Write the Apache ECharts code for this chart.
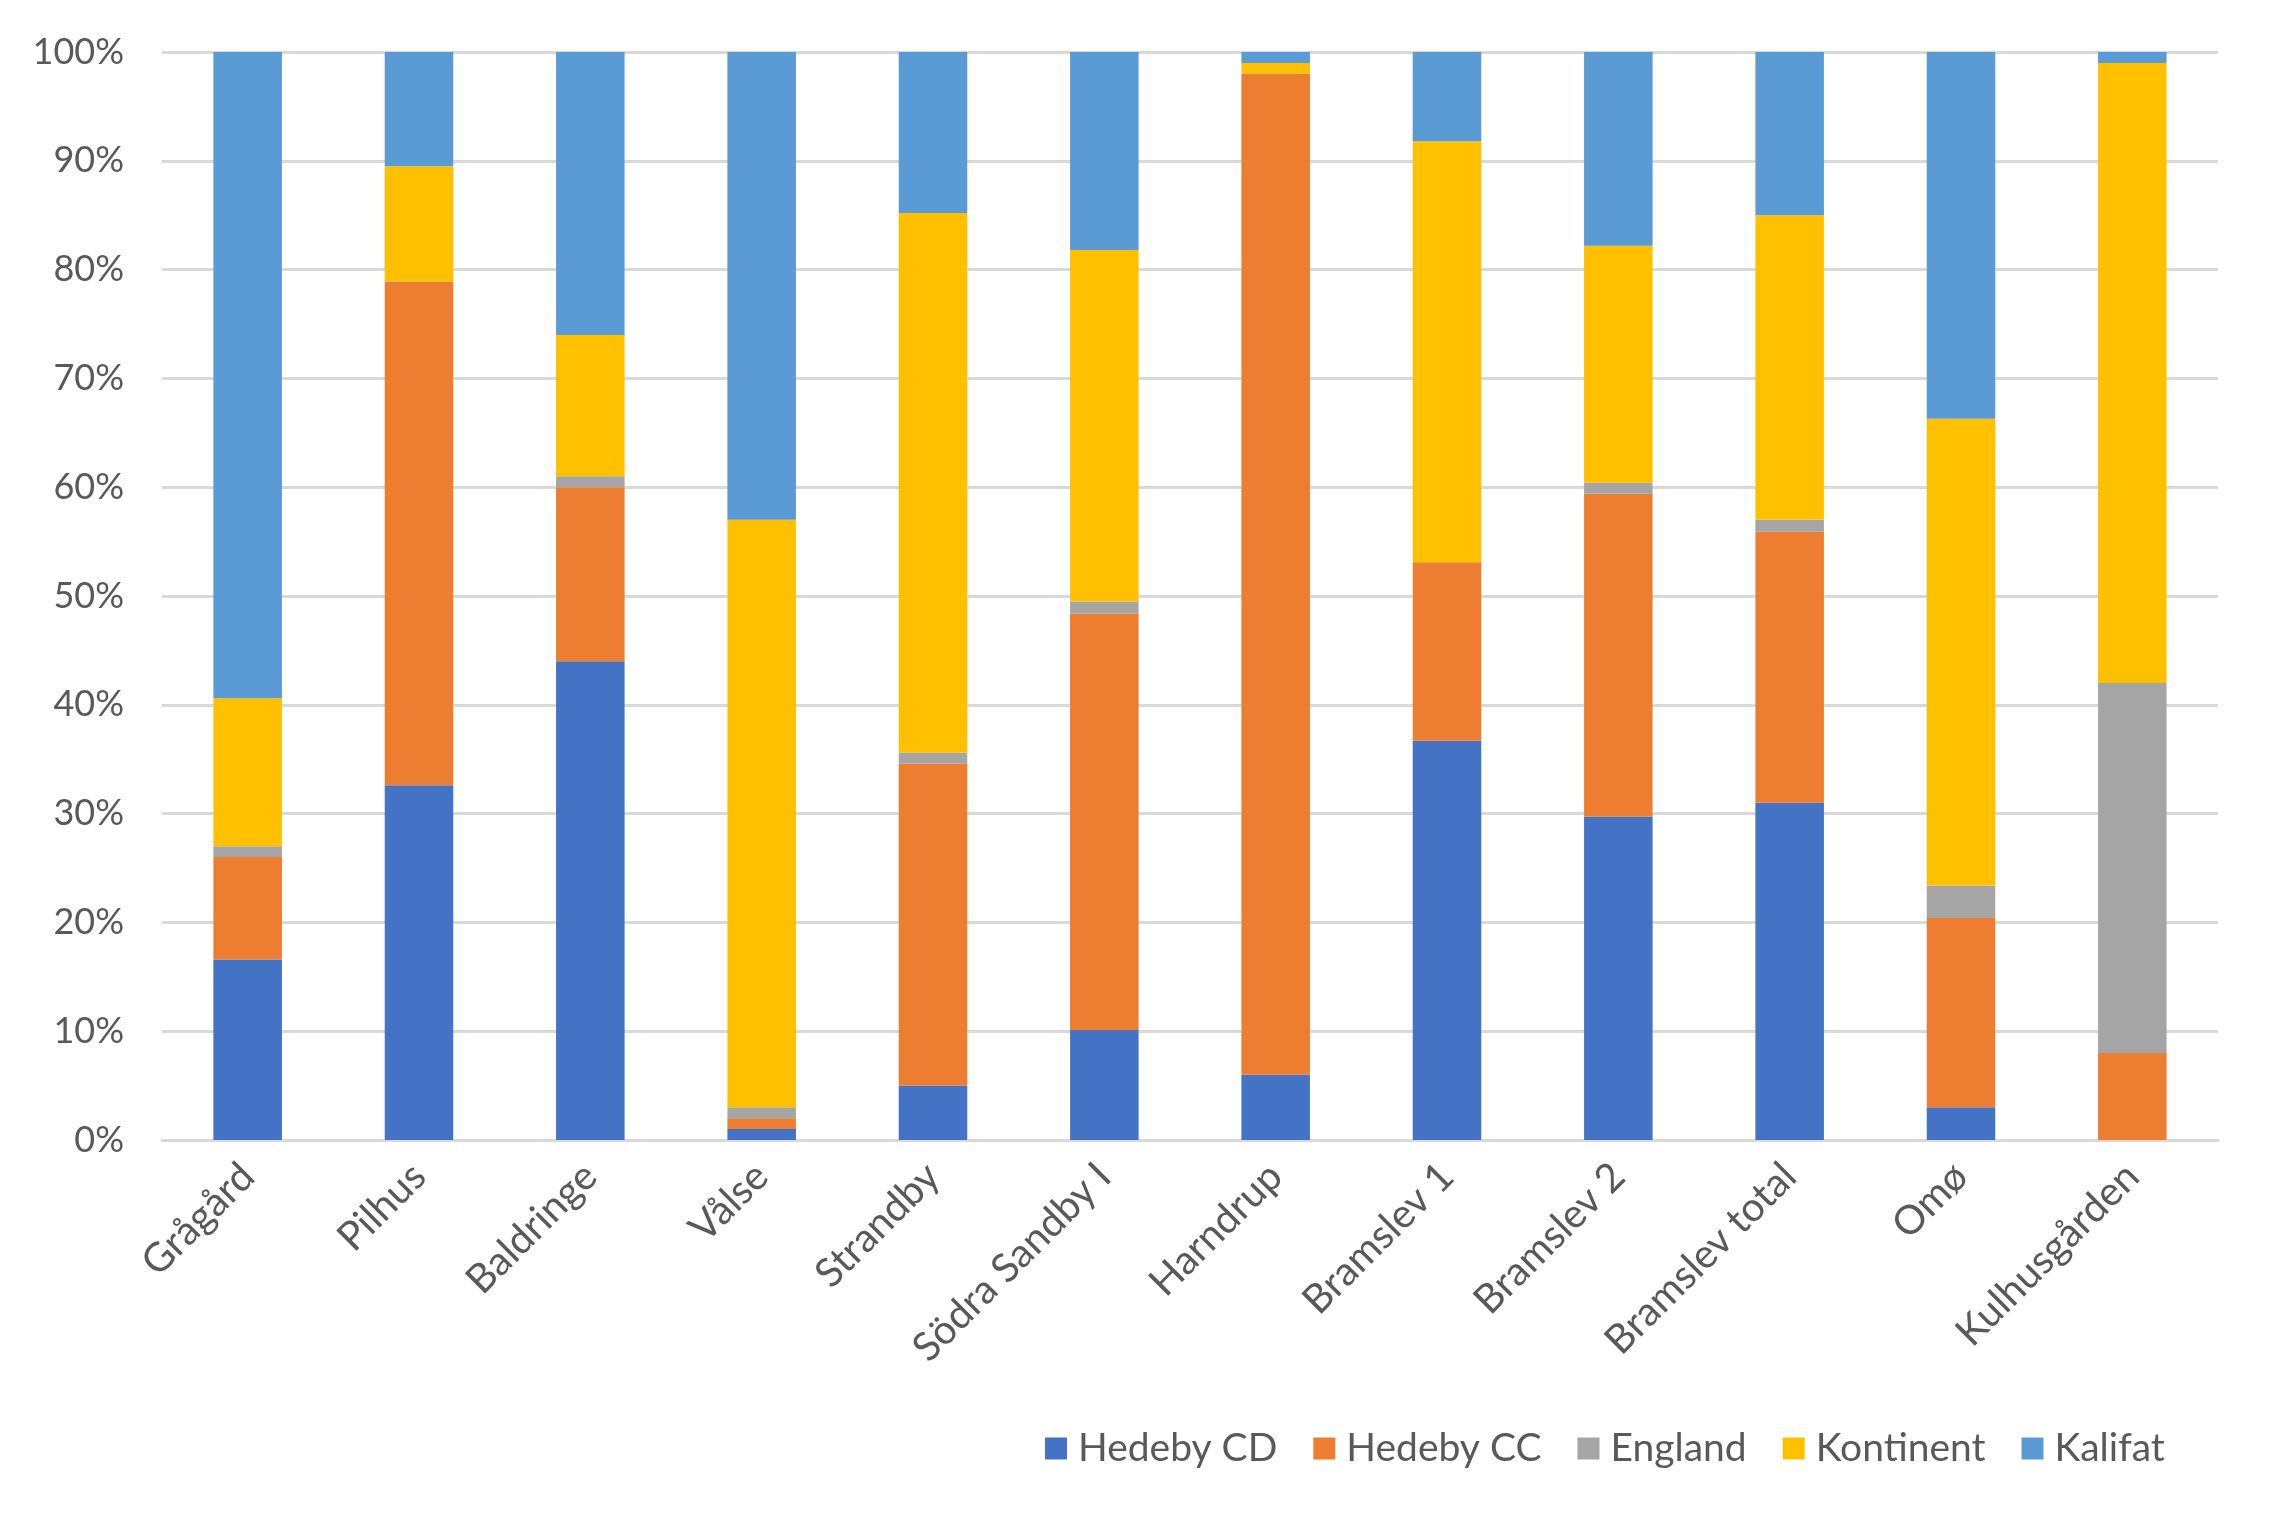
<!DOCTYPE html>
<html>
<head>
<meta charset="utf-8">
<script src="https://cdn.jsdelivr.net/npm/echarts@6/dist/echarts.min.js"></script>
<style>
  html, body { margin: 0; padding: 0; background: #fff; }
  #main { width: 2272px; height: 1514px; }
</style>
</head>
<body>
<div id="main"></div>
<script>
// finds per site, share in percent
const sites = ["Grågård", "Pilhus", "Baldringe", "Vålse", "Strandby", "Södra Sandby I",
  "Harndrup", "Bramslev 1", "Bramslev 2", "Bramslev total", "Omø", "Kulhusgården"];
const hedebyCD  = [16.6, 32.6, 44, 1, 5, 10.1, 6, 36.7, 29.7, 31.0, 3.0, 0];
const hedebyCC  = [9.4, 46.3, 16, 1, 29.6, 38.3, 92, 16.4, 29.7, 24.9, 17.4, 8];
const england   = [1.0, 0, 1, 1, 1, 1.1, 0, 0, 1.0, 1.1, 3.0, 34];
const kontinent = [13.6, 10.6, 13, 54, 49.6, 32.3, 1, 38.7, 21.8, 28.0, 42.9, 57];
const kalifat   = [59.4, 10.5, 26, 43, 14.8, 18.2, 1, 8.2, 17.8, 15.0, 33.7, 1];

const names = ["Hedeby CD", "Hedeby CC", "England", "Kontinent", "Kalifat"];
const colors = ["#4472C4", "#ED7D31", "#A5A5A5", "#FFC000", "#5B9BD5"];
const textColor = "#595959";
const font = "Lato";

let chart = echarts.init(document.getElementById("main"));

function bar(name, data, i) {
  return {
    name: name,
    type: "bar",
    stack: "total",
    barWidth: "40%",
    data: data,
    itemStyle: { color: colors[i] },
  };
}

chart.setOption({
  animation: false,
  color: colors,
  grid: { left: 162, right: 54, top: 52, bottom: 374 },
  legend: {
    data: names,
    left: 1040,
    top: 1424,
    icon: "rect",
    itemWidth: 22,
    itemHeight: 22,
    itemGap: 36,
    textStyle: { color: textColor, fontSize: 39, fontFamily: font, padding: [0, 0, 0, 6] },
  },
  xAxis: {
    type: "category",
    data: sites,
    axisLine: { lineStyle: { color: "#D9D9D9", width: 3 } },
    axisTick: { show: false },
    axisLabel: {
      rotate: 45,
      interval: 0,
      margin: 30,
      color: textColor,
      fontSize: 40,
      fontFamily: font,
    },
  },
  yAxis: {
    type: "value",
    min: 0,
    max: 100,
    interval: 10,
    axisLine: { show: false },
    axisTick: { show: false },
    axisLabel: {
      margin: 38,
      color: textColor,
      fontSize: 36,
      fontFamily: font,
      formatter: (v) => v + "%",
    },
    splitLine: { lineStyle: { color: "#D9D9D9", width: 3 } },
  },
  series: [
    bar(names[0], hedebyCD, 0),
    bar(names[1], hedebyCC, 1),
    bar(names[2], england, 2),
    bar(names[3], kontinent, 3),
    bar(names[4], kalifat, 4),
  ],
});
</script>
</body>
</html>
